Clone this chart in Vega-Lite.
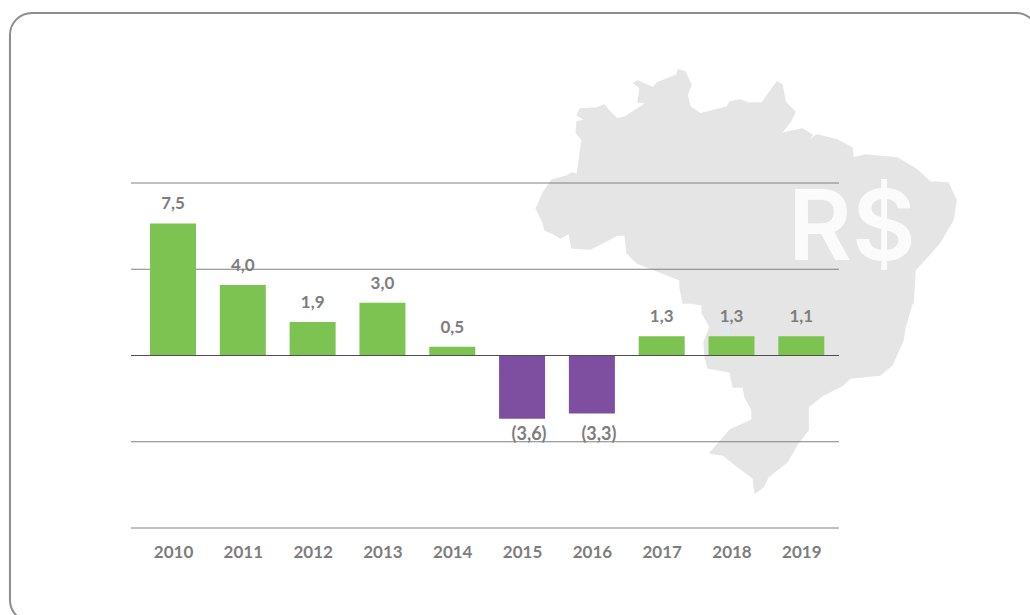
{"$schema":"https://vega.github.io/schema/vega-lite/v6.json","autosize":"none","padding":{"left":131,"top":183,"right":191,"bottom":87},"width":708,"height":345,"background":"#ffffff","config":{"view":{"stroke":null}},
"datasets":{"bars":[{"year":2010,"value":7.5,"label":"7,5"},{"year":2011,"value":4.0,"label":"4,0"},{"year":2012,"value":1.9,"label":"1,9"},{"year":2013,"value":3.0,"label":"3,0"},{"year":2014,"value":0.5,"label":"0,5"},{"year":2015,"value":-3.6,"label":"(3,6)"},{"year":2016,"value":-3.3,"label":"(3,3)"},{"year":2017,"value":1.1,"label":"1,3"},{"year":2018,"value":1.1,"label":"1,3"},{"year":2019,"value":1.1,"label":"1,1"}],
"grid":[{"g":9.8},{"g":4.9},{"g":-4.9},{"g":-9.8}]},
"layer":[
{"data":{"values":[{"x":2007.664,"x2":2022.39,"y":19.46,"y2":-15.14}]},"mark":{"type":"rect","fill":"transparent","stroke":"#8c8c8c","strokeWidth":2,"cornerRadius":22},"encoding":{"x":{"field":"x","type":"quantitative","scale":{"domain":[2009.398,2019.54],"nice":false,"zero":false,"padding":0},"axis":{"values":[2010,2011,2012,2013,2014,2015,2016,2017,2018,2019],"format":"d","title":null,"domain":false,"ticks":false,"grid":false,"labelPadding":16,"labelFont":"Lato","labelFontSize":17,"labelFontWeight":700,"labelColor":"#7d7d7d","labelFlush":false,"labelOverlap":false}},"x2":{"field":"x2"},"y":{"field":"y","type":"quantitative","scale":{"domain":[-9.8,9.8],"nice":false,"zero":false,"padding":0},"axis":null},"y2":{"field":"y2"}}},
{"data":{"values":[{"x":2018.209,"y":4.29,"name":"Brasil"}]},"mark":{"type":"point","filled":true,"fill":"#e5e5e5","fillOpacity":1,"stroke":"#e5e5e5","strokeWidth":1.5,"strokeJoin":"round","size":4,"shape":"M-209 -73L-203 -87L-194 -100L-179 -104L-174 -107L-169 -105L-164 -140L-170 -148L-169 -158L-161 -160L-169 -165L-166 -171L-149 -172L-142 -175L-136 -168L-129 -161L-121 -163L-99 -177L-108 -178L-106 -192L-112 -197L-108 -199L-93 -192L-89 -197L-69 -205L-68 -210L-61 -208L-55 -195L-59 -185L-56 -173L-46 -166L-19 -173L-16 -178L-6 -180L2 -177L16 -177L31 -198L36 -195L39 -178L49 -168L44 -158L34 -146L42 -148L56 -151L66 -145L59 -137L71 -145L91 -140L106 -132L107 -122L119 -125L151 -122L171 -110L184 -98L202 -97L210 -80L207 -60L194 -38L181 -23L169 -10L167 23L166 23L159 47L157 60L146 85L134 95L104 98L97 105L77 115L62 127L62 150L52 163L41 182L22 197L17 207L9 213L7 198L-8 187L-23 175L-36 173L-16 150L6 140L6 130L-1 117L-3 107L-13 107L-16 92L-38 88L-41 77L-42 62L-36 47L-44 33L-44 25L-54 23L-63 23L-66 7L-66 0L-91 -10L-109 -17L-119 -27L-121 -45L-129 -45L-144 -37L-156 -31L-174 -32L-177 -47L-186 -42L-194 -47L-201 -50L-203 -57L-210 -72Z"},"encoding":{"x":{"field":"x","type":"quantitative"},"y":{"field":"y","type":"quantitative"}}},
{"data":{"values":[{"x":2018.81,"y":5.426,"t":"R$"}]},"mark":{"type":"text","font":"Inter","fontWeight":600,"fontSize":98,"align":"left","baseline":"alphabetic","color":"#fbfbfb"},"encoding":{"x":{"field":"x","type":"quantitative"},"y":{"field":"y","type":"quantitative"},"text":{"field":"t"}}},
{"data":{"values":[{"x":2017.81,"y":1.165,"t":"S"}]},"mark":{"type":"text","font":"Lato","fontSize":24,"align":"left","baseline":"alphabetic","color":"#d9ebf6"},"encoding":{"x":{"field":"x","type":"quantitative"},"y":{"field":"y","type":"quantitative"},"text":{"field":"t"}}},
{"data":{"name":"grid"},"mark":{"type":"rule","color":"#808080","strokeWidth":1},"encoding":{"y":{"field":"g","type":"quantitative"}}},
{"data":{"name":"bars"},"mark":{"type":"bar","width":46,"orient":"vertical"},"encoding":{"x":{"field":"year","type":"quantitative"},"y":{"field":"value","type":"quantitative","stack":null},"color":{"condition":{"test":"datum.value<0","value":"#7e4fa0"},"value":"#7dc352"}}},
{"data":{"values":[{"z":0}]},"mark":{"type":"rule","color":"#4f4f4f","strokeWidth":1},"encoding":{"y":{"field":"z","type":"quantitative"}}},
{"data":{"name":"bars"},"transform":[{"filter":"datum.value>=0"}],"mark":{"type":"text","font":"Lato","fontSize":17,"fontWeight":700,"color":"#7d7d7d","dy":-19,"baseline":"middle"},"encoding":{"x":{"field":"year","type":"quantitative"},"y":{"field":"value","type":"quantitative"},"text":{"field":"label"}}},
{"data":{"name":"bars"},"transform":[{"filter":"datum.value<0"}],"mark":{"type":"text","font":"Lato","fontSize":18,"fontWeight":700,"color":"#7d7d7d","dx":7,"baseline":"middle"},"encoding":{"x":{"field":"year","type":"quantitative"},"y":{"datum":-4.5},"text":{"field":"label"}}}
]}
